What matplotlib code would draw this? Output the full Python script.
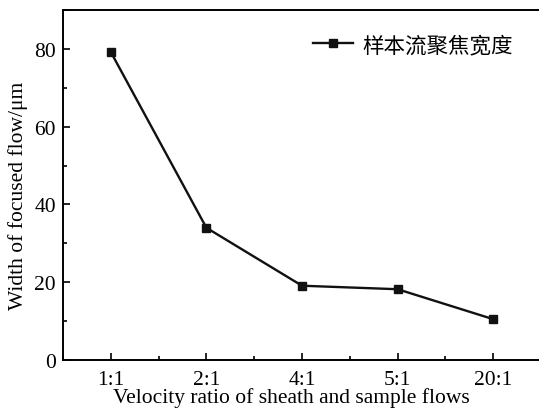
import numpy as np
import matplotlib.pyplot as plt
from matplotlib.ticker import MultipleLocator

ratios = ['1:1', '2:1', '4:1', '5:1', '20:1']
width = [79.2, 34.0, 19.1, 18.2, 10.5]
series_name = '样本流聚焦宽度'

plt.rcParams['font.family'] = ['Liberation Serif', 'Noto Sans CJK SC']

fig = plt.figure(figsize=(5.39, 4.10), dpi=100)
W, H = 539.0, 410.0
ax = fig.add_axes([63 / W, 1 - 361 / H, (541 - 63) / W, (361 - 11) / H])

x = np.arange(len(ratios))
ax.plot(x, width, color='#111111', lw=1.7, marker='s', ms=5.5,
        mfc='#111111', mec='#111111', label=series_name)

ax.set_xlim(-0.5, len(ratios) - 0.5)
ax.set_ylim(0, 90)
ax.set_xticks(x)
ax.set_xticklabels(ratios)
ax.xaxis.set_minor_locator(MultipleLocator(1, offset=0.5))
ax.set_yticks([0, 20, 40, 60, 80])
ax.yaxis.set_minor_locator(MultipleLocator(10))

ax.tick_params(which='both', direction='in', labelsize=15.5, width=1.2)
ax.tick_params(which='major', length=5, pad=5)
ax.tick_params(axis='x', which='major', pad=7)
ax.tick_params(which='minor', length=3)
for s in ax.spines.values():
    s.set_linewidth(1.4)

ax.set_xlabel('Velocity ratio of sheath and sample flows', fontsize=15.5)
ax.set_ylabel('Width of focused flow/μm', fontsize=15.5)
ax.xaxis.set_label_coords((291 - 63) / 478, -(388 - 361) / 350)
ax.yaxis.set_label_coords(-(63 - 28) / 478, (361 - 196) / 350)

leg = ax.legend(loc='center left', bbox_to_anchor=((313 - 63) / 478, (361 - 46) / 350),
                frameon=False, borderaxespad=0, borderpad=0,
                handlelength=1.85, handletextpad=0.45,
                prop={'family': 'Noto Sans CJK SC', 'size': 15.5})

fig.savefig('out.png', dpi=100)
